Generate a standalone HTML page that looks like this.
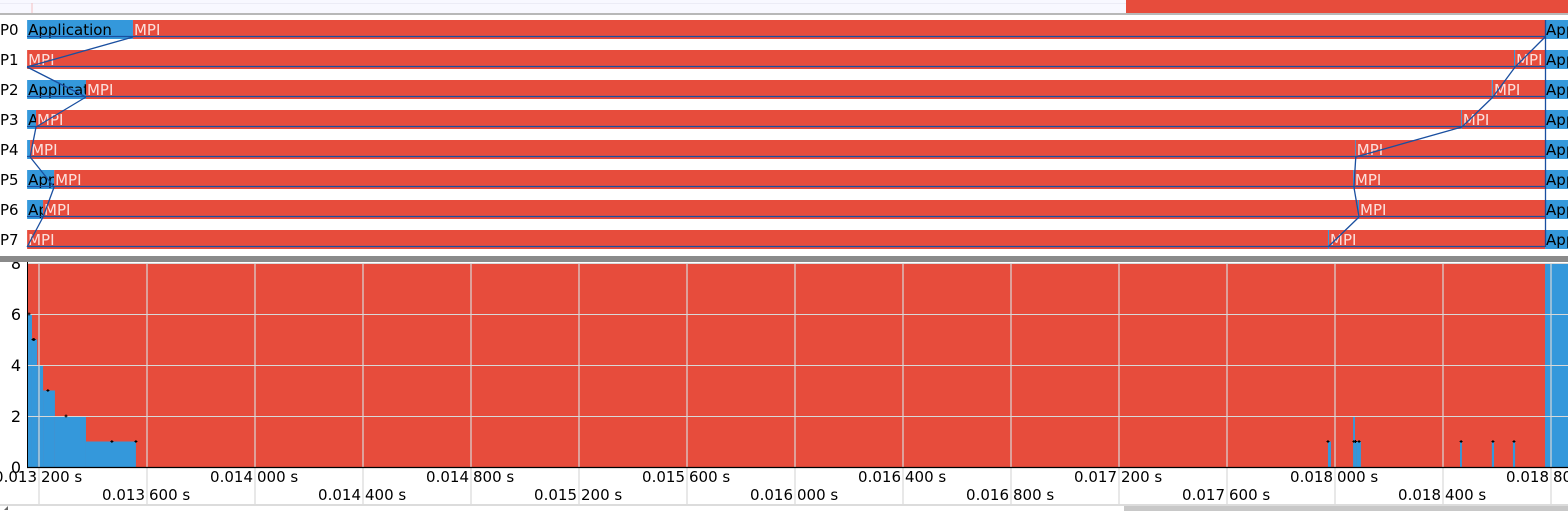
<!DOCTYPE html>
<html><head><meta charset="utf-8"><style>
html,body{margin:0;padding:0;background:#fff;width:1568px;height:511px;overflow:hidden}
svg{display:block;font-family:"DejaVu Sans","Liberation Sans",sans-serif}
</style></head><body>
<svg id="c" width="1568" height="511" xmlns="http://www.w3.org/2000/svg">
<rect x="0" y="0" width="1126" height="13" fill="#f8f8ff"/>
<line x1="0" y1="3.5" x2="1126" y2="3.5" stroke="#ececf6"/>
<line x1="32" y1="3" x2="32" y2="13" stroke="#f4c0c0"/>
<rect x="1126" y="0" width="442" height="13" fill="#e74c3c"/>
<rect x="0" y="13" width="1568" height="2" fill="#b8b8b8"/>
<g id="gantt"></g>
<g id="area"></g>
<rect x="0" y="256" width="1568" height="6" fill="#8a8a8a"/>
<rect x="0" y="504" width="1568" height="2" fill="#dcdcdc"/>
<rect x="1124" y="506" width="444" height="5" fill="#c8c8c8"/>
<path d="M4 510 L8 506 L8 510 Z" fill="#666"/>
</svg>
<script>
const NS="http://www.w3.org/2000/svg";
const RED="#e74c3c",BLUE="#3498db",LINE="#1a4fa0";
const tickTimes=[13200,13600,14000,14400,14800,15200,15600,16000,16400,16800,17200,17600,18000,18400,18800];
const tickLabelsA=["0.013","0.013","0.014","0.014","0.014","0.015","0.015","0.016","0.016","0.016","0.017","0.017","0.018","0.018","0.018"];
const tickLabelsB=["200 s","600 s","000 s","400 s","800 s","200 s","600 s","000 s","400 s","800 s","200 s","600 s","000 s","400 s","800 s"];
const yTicks=[0,2,4,6,8];
const procNames=["P0","P1","P2","P3","P4","P5","P6","P7"];
const P0=[[13156,13548,"A"],[13548,18778,"M"],[18778,18863,"A"]];
const P1=[[13156,18663,"M"],[18663,18667,"A"],[18667,18778,"M"],[18778,18863,"A"]];
const P2=[[13156,13374,"A"],[13374,18581,"M"],[18581,18585,"A"],[18585,18778,"M"],[18778,18863,"A"]];
const P3=[[13156,13189,"A"],[13189,18467,"M"],[18467,18470,"A"],[18470,18778,"M"],[18778,18863,"A"]];
const P4=[[13156,13167,"A"],[13167,18074,"M"],[18074,18077,"A"],[18077,18778,"M"],[18778,18863,"A"]];
const P5=[[13156,13256,"A"],[13256,18067,"M"],[18067,18070,"A"],[18070,18778,"M"],[18778,18863,"A"]];
const P6=[[13156,13215,"A"],[13215,18085,"M"],[18085,18089,"A"],[18089,18778,"M"],[18778,18863,"A"]];
const P7=[[13156,17974,"M"],[17974,17978,"A"],[17978,18778,"M"],[18778,18863,"A"]];
const procStates=[P0,P1,P2,P3,P4,P5,P6,P7];
const msgs=[[1,13156,0,13548],[1,13156,2,13374],[2,13374,3,13189],[3,13189,4,13167],[4,13167,5,13256],[5,13256,6,13215],[6,13215,7,13156],
[7,17974,6,18089],[6,18089,5,18070],[5,18070,4,18077],[4,18077,3,18470],[3,18470,2,18585],[2,18585,1,18667],[1,18667,0,18778]];
const appSteps=[[13156,13174,6],[13174,13193,5],[13193,13215,4],[13215,13259,3],[13259,13374,2],[13374,13559,1],
[17974,17985,1],[18067,18074,2],[18074,18081,1],[18081,18096,1],[18463,18470,1],[18581,18589,1],[18659,18667,1],[18778,18863,8]];
const markerTimes=[13163,13178,13182,13233,13300,13470,13559,17974,18070,18076,18089,18467,18585,18663];
const markerVals=[6,5,5,3,2,1,1,1,1,1,1,1,1,1];

const X=t=>39+(t-13200)*0.27;
const Y=v=>467-v*25.5;
function el(tag,attrs,parent){const e=document.createElementNS(NS,tag);for(const k in attrs)e.setAttribute(k,attrs[k]);parent.appendChild(e);return e;}
const G=document.getElementById("gantt"),A=document.getElementById("area");
const rowY=i=>20+i*30;
procNames.forEach((n,i)=>{
  const t=el("text",{x:0,y:rowY(i)+15,"font-size":15,fill:"#000"},G);t.textContent=n;
  
  
  procStates[i].forEach(s=>{
    const x0=X(s[0]),x1=Math.min(X(s[1]),1568);
    const r=el("rect",{x:x0,y:rowY(i),width:Math.max(x1-x0,1),height:19,fill:s[2]=="A"?BLUE:RED},G);
    
    
    if(x1-x0>6){
      const cp="cp"+i+"_"+Math.round(x0);
      const c=el("clipPath",{id:cp},G);el("rect",{x:x0,y:rowY(i),width:x1-x0,height:19},c);
      const tx=el("text",{x:x0+1,y:rowY(i)+15,"font-size":15,fill:s[2]=="A"?"#000":"#fbe0dd","clip-path":"url(#"+cp+")"},G);
      tx.textContent=s[2]=="A"?"Application":"MPI";
      
      
    }
  });
  const ln=el("line",{x1:27,y1:rowY(i)+16.5,x2:1545,y2:rowY(i)+16.5,stroke:LINE,"stroke-width":1.3},G);
  
  
});
msgs.forEach(m=>{
  const l=el("line",{x1:X(m[1]),y1:rowY(m[0])+17,x2:X(m[3]),y2:rowY(m[2])+17,stroke:LINE,"stroke-width":1.3},G);
  
  
});
el("line",{x1:1545.5,y1:20,x2:1545.5,y2:247,stroke:LINE,"stroke-width":1.3},G);

const bg=el("rect",{x:27,y:Y(8),width:1541,height:Y(0)-Y(8),fill:RED},A);


appSteps.forEach(s=>{
  const r=el("rect",{x:X(s[0]),y:Y(s[2]),width:Math.max(X(s[1])-X(s[0]),1.5),height:Y(0)-Y(s[2]),fill:BLUE},A);
  
  
});
yTicks.forEach(v=>{
  el("line",{x1:27,y1:Y(v)+.5,x2:1568,y2:Y(v)+.5,stroke:"#d8d8d8","stroke-width":1},A);
  const t=el("text",{x:21,y:Y(v)+6,"font-size":16,"text-anchor":"end",fill:"#000"},A);t.textContent=v;
  
  
});
tickTimes.forEach((t,i)=>{
  const x=X(t);
  el("line",{x1:x,y1:263,x2:x,y2:504,stroke:"#d8d8d8","stroke-width":1.2},A);
  const y=i%2==0?482:500;
  const a=el("text",{x:x-2,y:y,"font-size":15,"text-anchor":"end",fill:"#000"},A);a.textContent=tickLabelsA[i];
  
  
  const b=el("text",{x:x+2,y:y,"font-size":15,fill:"#000"},A);b.textContent=tickLabelsB[i];
  
  
});
markerTimes.forEach((t,i)=>{
  const x=X(t),y=Y(markerVals[i]);
  el("path",{d:`M${x-1.5} ${y}H${x+1.5}M${x} ${y-1.5}V${y+1.5}`,stroke:"#000","stroke-width":1},A);
});
el("line",{x1:27,y1:467.5,x2:1568,y2:467.5,stroke:"#000","stroke-width":1.3},A);
el("line",{x1:27.5,y1:262,x2:27.5,y2:468,stroke:"#000","stroke-width":1},A);
</script>
</body></html>
